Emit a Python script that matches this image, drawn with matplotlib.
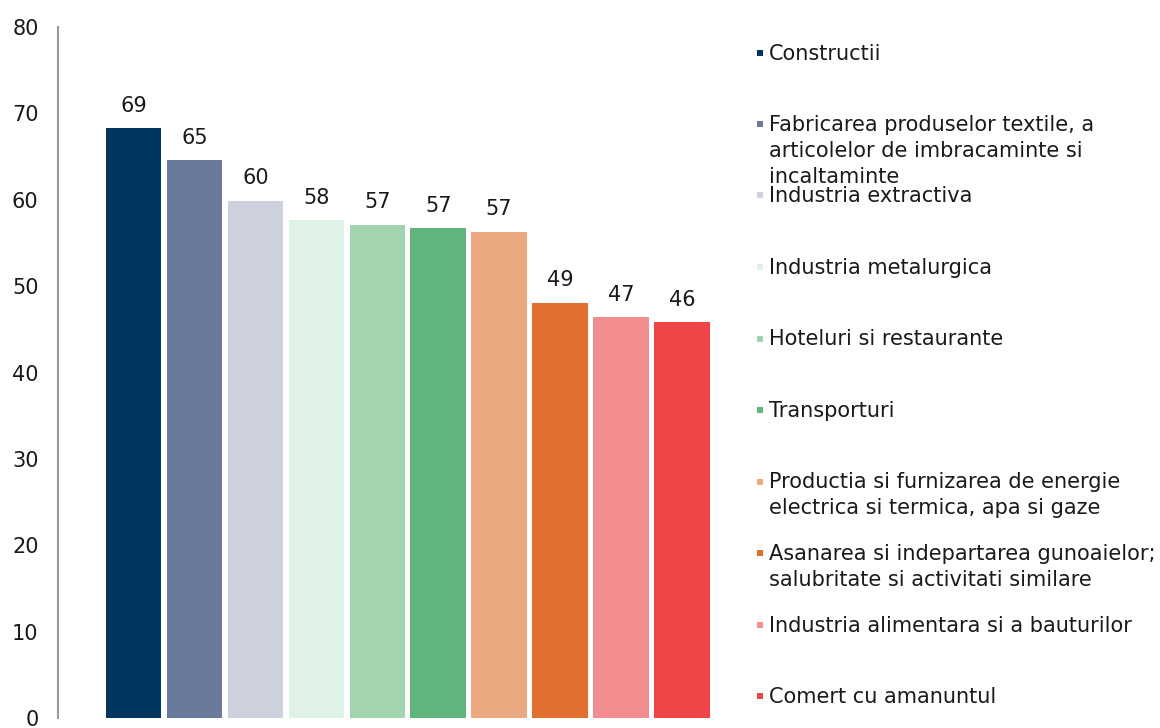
import matplotlib
matplotlib.use("Agg")
import matplotlib.pyplot as plt
from matplotlib.patches import Rectangle

categories = [
    "Constructii",
    "Fabricarea produselor textile, a\narticolelor de imbracaminte si\nincaltaminte",
    "Industria extractiva",
    "Industria metalurgica",
    "Hoteluri si restaurante",
    "Transporturi",
    "Productia si furnizarea de energie\nelectrica si termica, apa si gaze",
    "Asanarea si indepartarea gunoaielor;\nsalubritate si activitati similare",
    "Industria alimentara si a bauturilor",
    "Comert cu amanuntul",
]
values = [68.3, 64.6, 59.9, 57.6, 57.1, 56.7, 56.3, 48.1, 46.4, 45.8]
value_labels = ["69", "65", "60", "58", "57", "57", "57", "49", "47", "46"]
colors = ["#03365E", "#6B7A9A", "#CDD1DE", "#DFF2E6", "#A2D5AF",
          "#60B47D", "#ECA881", "#E0702D", "#F28E8F", "#EE4548"]
yticks = [0, 10, 20, 30, 40, 50, 60, 70, 80]

FONT = "DejaVu Sans"
FS = 15
plt.rcParams["font.family"] = [FONT]

W, H = 1160, 728
fig = plt.figure(figsize=(W / 100, H / 100), dpi=100)
ax = fig.add_axes([58 / W, 1 - 718 / H, (730 - 58) / W, (718 - 27) / H])

x = list(range(len(values)))
ax.bar(x, values, width=0.91, color=colors, edgecolor="none")
for xi, v, lab in zip(x, values, value_labels):
    ax.annotate(lab, (xi, v), xytext=(0, 9), textcoords="offset points",
                ha="center", va="bottom", fontsize=FS, color="#1a1a1a")

ax.set_xlim(-1.24, 9.79)
ax.set_ylim(0, 80)
ax.set_yticks(yticks)
ax.set_yticklabels([str(t) for t in yticks], fontsize=FS, color="#1a1a1a")
ax.tick_params(axis="y", length=0, pad=14)
ax.set_xticks([])
for s in ["top", "right", "bottom"]:
    ax.spines[s].set_visible(False)
ax.spines["left"].set_color("#9a9a9a")
ax.spines["left"].set_linewidth(1.5)

# legend in fixed slots
y0, dy = 52.5, 71.5
for i, (cat, c) in enumerate(zip(categories, colors)):
    yc = y0 + i * dy
    fig.add_artist(Rectangle(((757) / W, 1 - (yc + 3) / H), 6 / W, 6 / H,
                             transform=fig.transFigure, color=c, lw=0))
    fig.text(769 / W, 1 - (yc - 9) / H, cat, fontsize=FS, color="#1a1a1a",
             ha="left", va="top", linespacing=1.37)

fig.savefig("out.png", dpi=100)
